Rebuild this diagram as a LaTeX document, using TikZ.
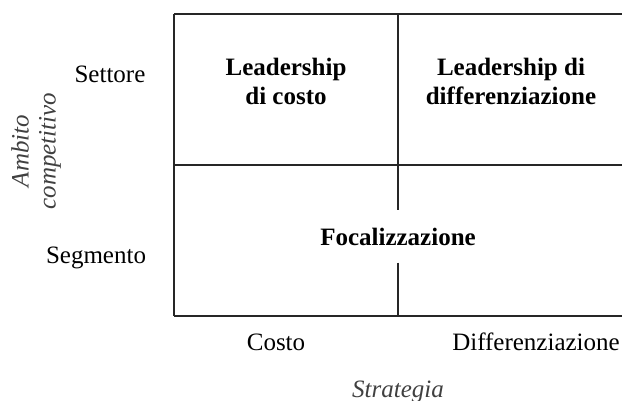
\documentclass[tikz,border=0pt]{standalone}
\usepackage{fontspec}
\setmainfont{Liberation Serif}
\usetikzlibrary{positioning}

\begin{document}
\begin{tikzpicture}[x=1pt,y=-1pt]
\tikzstyle{grid}=[line width=1.3pt, draw=black!85]
\tikzstyle{cell}=[font=\fontsize{25}{29}\selectfont\bfseries, align=center, inner sep=0pt]
\tikzstyle{tick}=[font=\fontsize{25}{29}\selectfont, inner sep=0pt, anchor=base]
\tikzstyle{axis}=[font=\fontsize{25}{27}\selectfont\itshape, text=black!75, inner sep=0pt]
  \useasboundingbox (0,0) rectangle (622,401);
  % corners of the matrix, open on the right
  \coordinate (tl) at (174,14);
  \coordinate (tr) at (622,14);
  \coordinate (ml) at (174,165);
  \coordinate (mr) at (622,165);
  \coordinate (bl) at (174,316);
  \coordinate (br) at (622,316);
  \coordinate (tm) at (398,14);
  \coordinate (bm) at (398,316);
  % cells
  \node[cell, anchor=north] (costlead) at (286,58) {Leadership\\di costo};
  \node[cell, anchor=north] (difflead) at (511,58) {Leadership di\\differenziazione};
  \node[cell, minimum height=52pt] (focus) at (398,236.5) {Focalizzazione};
  % rows and columns
  \node[tick] (settore) at (110,83) {Settore};
  \node[tick] (segmento) at (96,264) {Segmento};
  \node[tick] (costo) at (276,350) {Costo};
  \node[tick] (diff) at (536,350) {Differenziazione};
  \node[axis, anchor=base] (strategia) at (398,397) {Strategia};
  \node[axis, rotate=90, align=center] (ambito) at (36,151) {Ambito\\competitivo};
  \draw[grid] (tl) -- (tr)
              (ml) -- (mr)
              (bl) -- (br)
              (tl) -- (bl);
  \draw[grid] (tm) -- (focus.north)
              (focus.south) -- (bm);
\end{tikzpicture}
\end{document}
